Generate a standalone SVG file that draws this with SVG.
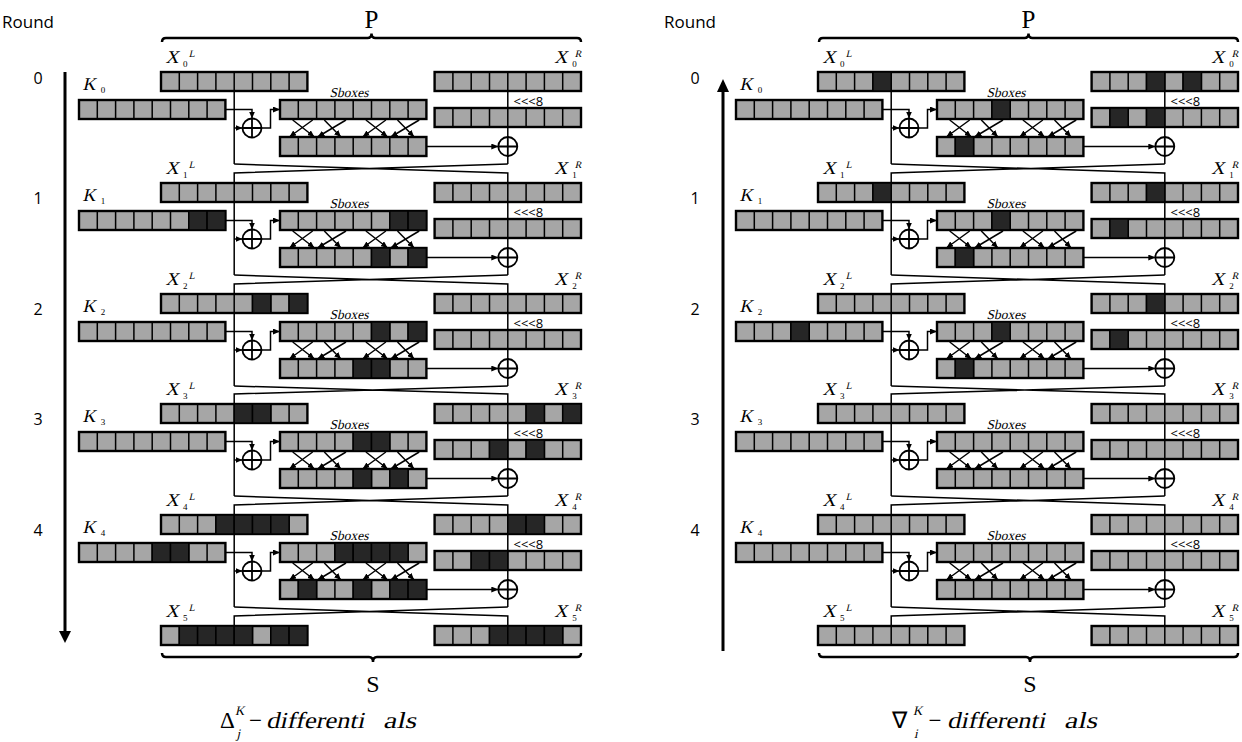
<svg xmlns="http://www.w3.org/2000/svg" width="1242" height="742" viewBox="0 0 1242 742">
<style>
.dk{fill:#262626;stroke:#000;stroke-width:1.5}
.ln{fill:none;stroke:#000;stroke-width:1.5}
.ar{marker-end:url(#ah)}
.bk{fill:none;stroke:#000;stroke-width:3}
.br{fill:none;stroke:#000;stroke-width:2.5}
.ti{font-family:"Liberation Serif","Times New Roman",serif;fill:#000}
.tr{font-family:"Liberation Serif","Times New Roman",serif;fill:#000}
.ss{font-family:"Open Sans","Liberation Sans",sans-serif;fill:#000}
.xl{font-size:18px}
.sp{font-size:10px}
.sb{font-size:9px}
.sbx{font-size:13.5px;text-anchor:middle}
.rot{font-size:13px}
.rn{font-size:16px;text-anchor:middle}
</style>
<defs>
<marker id="ah" markerUnits="userSpaceOnUse" markerWidth="7" markerHeight="6" viewBox="0 0 7 6" refX="7" refY="3" orient="auto"><path d="M0,0L7,3L0,6z"/></marker>
<g id="row"><rect width="146.4" height="19" fill="#a6a6a6"/><path d="M18.3,0v19M36.6,0v19M54.9,0v19M73.2,0v19M91.5,0v19M109.8,0v19M128.1,0v19" stroke="#000" stroke-width="1.5"/><rect width="146.4" height="19" fill="none" stroke="#000" stroke-width="2.4"/></g>
<g id="xor"><circle r="9.5" fill="#fff" stroke="#000" stroke-width="1.8"/><path d="M-9.5,0H9.5M0,-9.5V9.5" stroke="#000" stroke-width="1.8"/></g>
<g id="rc">
<path class="ln" d="M234.2,0V92M507.8,0V65M507.8,84V92"/>
<path class="ln ar" d="M225.4,37.5H252V46.5"/>
<path class="ln ar" d="M234.2,56H242.5"/>
<path class="ln ar" d="M261.5,56H270.5V37.5H280"/>
<path class="ln ar" d="M426.4,74.5H498.3"/>
<path class="ln ar" d="M292.7,48L314.5,65"/>
<path class="ln ar" d="M312.7,48L289.3,65"/>
<path class="ln ar" d="M324.3,48L341,65"/>
<path class="ln ar" d="M346,48L317.5,65"/>
<path class="ln ar" d="M365.9,48L387.7,65"/>
<path class="ln ar" d="M385.9,48L362.5,65"/>
<path class="ln ar" d="M397.5,48L414.2,65"/>
<path class="ln ar" d="M419.2,48L390.7,65"/>
</g>
<path id="cross" class="ln" d="M234.2,164L507.8,173V183M507.8,164L234.2,173V183M234.2,275L507.8,284V294M507.8,275L234.2,284V294M234.2,386L507.8,394V404M507.8,386L234.2,394V404M234.2,496L507.8,505V515M507.8,496L234.2,505V515M234.2,607L507.8,616V626M507.8,607L234.2,616V626"/>
</defs>
<rect width="1242" height="742" fill="#fff"/>

<!-- ================= LEFT PANEL ================= -->
<g id="left">
<text class="ss" x="2" y="28" font-size="17">Round</text>
<g id="L-round-numbers" class="ss rn"><text x="38" y="84">0</text><text x="38" y="204">1</text><text x="38" y="315">2</text><text x="38" y="425">3</text><text x="38" y="536">4</text></g>
<g id="L-time-arrow"><path class="bk" d="M65,72V633"/><path d="M59,631L71,631L65,643z"/></g>
<g id="L-P"><path class="br" d="M162,42Q162,38 166,38H367.5Q371.5,38 371.5,33.5Q371.5,38 375.5,38H577Q581,38 581,42"/><text class="tr" x="371.5" y="28" font-size="25" text-anchor="middle">P</text></g>
<g id="L-S"><path class="br" d="M162,653Q162,657 166,657H369Q373,657 373,662Q373,657 377,657H577Q581,657 581,653"/><text class="tr" x="373" y="692" font-size="24" text-anchor="middle">S</text></g>
<g id="L-formula"><text class="tr" x="220" y="728" font-size="23">Δ</text><text class="ti" transform="translate(235,715) skewX(-13)" font-size="13">K</text><text class="ti" transform="translate(236.5,738) skewX(-13)" font-size="13">j</text><text class="tr" x="249" y="728" font-size="23">−</text><text class="ti" transform="translate(266,728) skewX(-13)" font-size="23" textLength="98" lengthAdjust="spacingAndGlyphs">differenti</text><text class="ti" transform="translate(383,728) skewX(-13)" font-size="23" textLength="33" lengthAdjust="spacingAndGlyphs">als</text></g>

<g id="L-connectors">
<use href="#rc" y="72"/><use href="#rc" y="183"/><use href="#rc" y="294"/><use href="#rc" y="404"/><use href="#rc" y="515"/>
<use href="#cross"/>
</g>

<g id="L-xors"><use href="#xor" x="252" y="128"/><use href="#xor" x="507.8" y="146.5"/><use href="#xor" x="252" y="239"/><use href="#xor" x="507.8" y="257.5"/><use href="#xor" x="252" y="350"/><use href="#xor" x="507.8" y="368.5"/><use href="#xor" x="252" y="460"/><use href="#xor" x="507.8" y="478.5"/><use href="#xor" x="252" y="571"/><use href="#xor" x="507.8" y="589.5"/></g>

<g id="L-sbox-labels" class="ti sbx"><text transform="translate(349,97) skewX(-13)">Sboxes</text><text transform="translate(349,208) skewX(-13)">Sboxes</text><text transform="translate(349,319) skewX(-13)">Sboxes</text><text transform="translate(349,429) skewX(-13)">Sboxes</text><text transform="translate(349,540) skewX(-13)">Sboxes</text></g>
<g id="L-rot-labels" class="ss rot"><text x="513.5" y="106">&lt;&lt;&lt;8</text><text x="513.5" y="217">&lt;&lt;&lt;8</text><text x="513.5" y="328">&lt;&lt;&lt;8</text><text x="513.5" y="438">&lt;&lt;&lt;8</text><text x="513.5" y="549">&lt;&lt;&lt;8</text></g>

<!-- round 0 -->
<g id="L0-XL"><use href="#row" x="161" y="72"/><text class="ti xl" transform="translate(165.6,63) skewX(-13)">X</text><text class="ti sp" transform="translate(188.8,57) skewX(-13)">L</text><text class="tr sb" x="183" y="67">0</text></g>
<g id="L0-XR"><use href="#row" x="434.6" y="72"/><text class="ti xl" transform="translate(554.3,63) skewX(-13)">X</text><text class="ti sp" transform="translate(574.7,57) skewX(-13)">R</text><text class="tr sb" x="572.3" y="67">0</text></g>
<g id="L0-K"><use href="#row" x="79" y="100"/><text class="ti xl" transform="translate(82.5,90) skewX(-13)">K</text><text class="tr sb" x="100.8" y="93">0</text></g>
<g id="L0-Sin"><use href="#row" x="280" y="100"/></g>
<g id="L0-Rot"><use href="#row" x="434.6" y="108"/></g>
<g id="L0-Sout"><use href="#row" x="280" y="137"/></g>
<!-- round 1 -->
<g id="L1-XL"><use href="#row" x="161" y="183"/><text class="ti xl" transform="translate(165.6,174) skewX(-13)">X</text><text class="ti sp" transform="translate(188.8,168) skewX(-13)">L</text><text class="tr sb" x="183" y="178">1</text></g>
<g id="L1-XR"><use href="#row" x="434.6" y="183"/><text class="ti xl" transform="translate(554.3,174) skewX(-13)">X</text><text class="ti sp" transform="translate(574.7,168) skewX(-13)">R</text><text class="tr sb" x="572.3" y="178">1</text></g>
<g id="L1-K"><use href="#row" x="79" y="211"/><rect class="dk" x="188.8" y="211" width="18.3" height="19"/><rect class="dk" x="207.1" y="211" width="18.3" height="19"/><text class="ti xl" transform="translate(82.5,201) skewX(-13)">K</text><text class="tr sb" x="100.8" y="204">1</text></g>
<g id="L1-Sin"><use href="#row" x="280" y="211"/><rect class="dk" x="389.8" y="211" width="18.3" height="19"/><rect class="dk" x="408.1" y="211" width="18.3" height="19"/></g>
<g id="L1-Rot"><use href="#row" x="434.6" y="219"/></g>
<g id="L1-Sout"><use href="#row" x="280" y="248"/><rect class="dk" x="371.5" y="248" width="18.3" height="19"/><rect class="dk" x="408.1" y="248" width="18.3" height="19"/></g>
<!-- round 2 -->
<g id="L2-XL"><use href="#row" x="161" y="294"/><rect class="dk" x="252.5" y="294" width="18.3" height="19"/><rect class="dk" x="289.1" y="294" width="18.3" height="19"/><text class="ti xl" transform="translate(165.6,285) skewX(-13)">X</text><text class="ti sp" transform="translate(188.8,279) skewX(-13)">L</text><text class="tr sb" x="183" y="289">2</text></g>
<g id="L2-XR"><use href="#row" x="434.6" y="294"/><text class="ti xl" transform="translate(554.3,285) skewX(-13)">X</text><text class="ti sp" transform="translate(574.7,279) skewX(-13)">R</text><text class="tr sb" x="572.3" y="289">2</text></g>
<g id="L2-K"><use href="#row" x="79" y="322"/><text class="ti xl" transform="translate(82.5,312) skewX(-13)">K</text><text class="tr sb" x="100.8" y="315">2</text></g>
<g id="L2-Sin"><use href="#row" x="280" y="322"/><rect class="dk" x="371.5" y="322" width="18.3" height="19"/><rect class="dk" x="408.1" y="322" width="18.3" height="19"/></g>
<g id="L2-Rot"><use href="#row" x="434.6" y="330"/></g>
<g id="L2-Sout"><use href="#row" x="280" y="359"/><rect class="dk" x="353.2" y="359" width="18.3" height="19"/><rect class="dk" x="371.5" y="359" width="18.3" height="19"/></g>
<!-- round 3 -->
<g id="L3-XL"><use href="#row" x="161" y="404"/><rect class="dk" x="234.2" y="404" width="18.3" height="19"/><rect class="dk" x="252.5" y="404" width="18.3" height="19"/><text class="ti xl" transform="translate(165.6,395) skewX(-13)">X</text><text class="ti sp" transform="translate(188.8,389) skewX(-13)">L</text><text class="tr sb" x="183" y="399">3</text></g>
<g id="L3-XR"><use href="#row" x="434.6" y="404"/><rect class="dk" x="526.1" y="404" width="18.3" height="19"/><rect class="dk" x="562.7" y="404" width="18.3" height="19"/><text class="ti xl" transform="translate(554.3,395) skewX(-13)">X</text><text class="ti sp" transform="translate(574.7,389) skewX(-13)">R</text><text class="tr sb" x="572.3" y="399">3</text></g>
<g id="L3-K"><use href="#row" x="79" y="432"/><text class="ti xl" transform="translate(82.5,422) skewX(-13)">K</text><text class="tr sb" x="100.8" y="425">3</text></g>
<g id="L3-Sin"><use href="#row" x="280" y="432"/><rect class="dk" x="353.2" y="432" width="18.3" height="19"/><rect class="dk" x="371.5" y="432" width="18.3" height="19"/></g>
<g id="L3-Rot"><use href="#row" x="434.6" y="440"/><rect class="dk" x="489.5" y="440" width="18.3" height="19"/><rect class="dk" x="526.1" y="440" width="18.3" height="19"/></g>
<g id="L3-Sout"><use href="#row" x="280" y="469"/><rect class="dk" x="353.2" y="469" width="18.3" height="19"/><rect class="dk" x="389.8" y="469" width="18.3" height="19"/></g>
<!-- round 4 -->
<g id="L4-XL"><use href="#row" x="161" y="515"/><rect class="dk" x="215.9" y="515" width="18.3" height="19"/><rect class="dk" x="234.2" y="515" width="18.3" height="19"/><rect class="dk" x="252.5" y="515" width="18.3" height="19"/><rect class="dk" x="270.8" y="515" width="18.3" height="19"/><text class="ti xl" transform="translate(165.6,506) skewX(-13)">X</text><text class="ti sp" transform="translate(188.8,500) skewX(-13)">L</text><text class="tr sb" x="183" y="510">4</text></g>
<g id="L4-XR"><use href="#row" x="434.6" y="515"/><rect class="dk" x="507.8" y="515" width="18.3" height="19"/><rect class="dk" x="526.1" y="515" width="18.3" height="19"/><text class="ti xl" transform="translate(554.3,506) skewX(-13)">X</text><text class="ti sp" transform="translate(574.7,500) skewX(-13)">R</text><text class="tr sb" x="572.3" y="510">4</text></g>
<g id="L4-K"><use href="#row" x="79" y="543"/><rect class="dk" x="152.2" y="543" width="18.3" height="19"/><rect class="dk" x="170.5" y="543" width="18.3" height="19"/><text class="ti xl" transform="translate(82.5,533) skewX(-13)">K</text><text class="tr sb" x="100.8" y="536">4</text></g>
<g id="L4-Sin"><use href="#row" x="280" y="543"/><rect class="dk" x="334.9" y="543" width="18.3" height="19"/><rect class="dk" x="353.2" y="543" width="18.3" height="19"/><rect class="dk" x="371.5" y="543" width="18.3" height="19"/><rect class="dk" x="389.8" y="543" width="18.3" height="19"/></g>
<g id="L4-Rot"><use href="#row" x="434.6" y="551"/><rect class="dk" x="471.2" y="551" width="18.3" height="19"/><rect class="dk" x="489.5" y="551" width="18.3" height="19"/></g>
<g id="L4-Sout"><use href="#row" x="280" y="580"/><rect class="dk" x="298.3" y="580" width="18.3" height="19"/><rect class="dk" x="353.2" y="580" width="18.3" height="19"/><rect class="dk" x="389.8" y="580" width="18.3" height="19"/><rect class="dk" x="408.1" y="580" width="18.3" height="19"/></g>
<!-- round 5 -->
<g id="L5-XL"><use href="#row" x="161" y="626"/><rect class="dk" x="179.3" y="626" width="18.3" height="19"/><rect class="dk" x="197.6" y="626" width="18.3" height="19"/><rect class="dk" x="215.9" y="626" width="18.3" height="19"/><rect class="dk" x="234.2" y="626" width="18.3" height="19"/><rect class="dk" x="270.8" y="626" width="18.3" height="19"/><rect class="dk" x="289.1" y="626" width="18.3" height="19"/><text class="ti xl" transform="translate(165.6,617) skewX(-13)">X</text><text class="ti sp" transform="translate(188.8,611) skewX(-13)">L</text><text class="tr sb" x="183" y="621">5</text></g>
<g id="L5-XR"><use href="#row" x="434.6" y="626"/><rect class="dk" x="489.5" y="626" width="18.3" height="19"/><rect class="dk" x="507.8" y="626" width="18.3" height="19"/><rect class="dk" x="526.1" y="626" width="18.3" height="19"/><rect class="dk" x="544.4" y="626" width="18.3" height="19"/><text class="ti xl" transform="translate(554.3,617) skewX(-13)">X</text><text class="ti sp" transform="translate(574.7,611) skewX(-13)">R</text><text class="tr sb" x="572.3" y="621">5</text></g>
</g>

<!-- ================= RIGHT PANEL ================= -->
<g id="right" transform="translate(657,0)">
<text class="ss" x="7" y="28" font-size="17">Round</text>
<g id="R-round-numbers" class="ss rn"><text x="38" y="84">0</text><text x="38" y="204">1</text><text x="38" y="315">2</text><text x="38" y="425">3</text><text x="38" y="536">4</text></g>
<g id="R-time-arrow"><path class="bk" d="M66,651V90"/><path d="M60,92L72,92L66,79z"/></g>
<g id="R-P"><path class="br" d="M162,42Q162,38 166,38H367.5Q371.5,38 371.5,33.5Q371.5,38 375.5,38H577Q581,38 581,42"/><text class="tr" x="371.5" y="28" font-size="25" text-anchor="middle">P</text></g>
<g id="R-S"><path class="br" d="M162,653Q162,657 166,657H369Q373,657 373,662Q373,657 377,657H577Q581,657 581,653"/><text class="tr" x="373" y="692" font-size="24" text-anchor="middle">S</text></g>
<g id="R-formula"><text class="tr" x="235" y="728" font-size="23">∇</text><text class="ti" transform="translate(256,715) skewX(-13)" font-size="13">K</text><text class="ti" transform="translate(257,738) skewX(-13)" font-size="13">i</text><text class="tr" x="271.5" y="728" font-size="23">−</text><text class="ti" transform="translate(290,728) skewX(-13)" font-size="23" textLength="98" lengthAdjust="spacingAndGlyphs">differenti</text><text class="ti" transform="translate(407,728) skewX(-13)" font-size="23" textLength="33" lengthAdjust="spacingAndGlyphs">als</text></g>

<g id="R-connectors">
<use href="#rc" y="72"/><use href="#rc" y="183"/><use href="#rc" y="294"/><use href="#rc" y="404"/><use href="#rc" y="515"/>
<use href="#cross"/>
</g>

<g id="R-xors"><use href="#xor" x="252" y="128"/><use href="#xor" x="507.8" y="146.5"/><use href="#xor" x="252" y="239"/><use href="#xor" x="507.8" y="257.5"/><use href="#xor" x="252" y="350"/><use href="#xor" x="507.8" y="368.5"/><use href="#xor" x="252" y="460"/><use href="#xor" x="507.8" y="478.5"/><use href="#xor" x="252" y="571"/><use href="#xor" x="507.8" y="589.5"/></g>

<g id="R-sbox-labels" class="ti sbx"><text transform="translate(349,97) skewX(-13)">Sboxes</text><text transform="translate(349,208) skewX(-13)">Sboxes</text><text transform="translate(349,319) skewX(-13)">Sboxes</text><text transform="translate(349,429) skewX(-13)">Sboxes</text><text transform="translate(349,540) skewX(-13)">Sboxes</text></g>
<g id="R-rot-labels" class="ss rot"><text x="513.5" y="106">&lt;&lt;&lt;8</text><text x="513.5" y="217">&lt;&lt;&lt;8</text><text x="513.5" y="328">&lt;&lt;&lt;8</text><text x="513.5" y="438">&lt;&lt;&lt;8</text><text x="513.5" y="549">&lt;&lt;&lt;8</text></g>

<!-- round 0 -->
<g id="R0-XL"><use href="#row" x="161" y="72"/><rect class="dk" x="215.9" y="72" width="18.3" height="19"/><text class="ti xl" transform="translate(165.6,63) skewX(-13)">X</text><text class="ti sp" transform="translate(188.8,57) skewX(-13)">L</text><text class="tr sb" x="183" y="67">0</text></g>
<g id="R0-XR"><use href="#row" x="434.6" y="72"/><rect class="dk" x="489.5" y="72" width="18.3" height="19"/><rect class="dk" x="526.1" y="72" width="18.3" height="19"/><text class="ti xl" transform="translate(554.3,63) skewX(-13)">X</text><text class="ti sp" transform="translate(574.7,57) skewX(-13)">R</text><text class="tr sb" x="572.3" y="67">0</text></g>
<g id="R0-K"><use href="#row" x="79" y="100"/><text class="ti xl" transform="translate(82.5,90) skewX(-13)">K</text><text class="tr sb" x="100.8" y="93">0</text></g>
<g id="R0-Sin"><use href="#row" x="280" y="100"/><rect class="dk" x="334.9" y="100" width="18.3" height="19"/></g>
<g id="R0-Rot"><use href="#row" x="434.6" y="108"/><rect class="dk" x="452.9" y="108" width="18.3" height="19"/><rect class="dk" x="489.5" y="108" width="18.3" height="19"/></g>
<g id="R0-Sout"><use href="#row" x="280" y="137"/><rect class="dk" x="298.3" y="137" width="18.3" height="19"/></g>
<!-- round 1 -->
<g id="R1-XL"><use href="#row" x="161" y="183"/><rect class="dk" x="215.9" y="183" width="18.3" height="19"/><text class="ti xl" transform="translate(165.6,174) skewX(-13)">X</text><text class="ti sp" transform="translate(188.8,168) skewX(-13)">L</text><text class="tr sb" x="183" y="178">1</text></g>
<g id="R1-XR"><use href="#row" x="434.6" y="183"/><rect class="dk" x="489.5" y="183" width="18.3" height="19"/><text class="ti xl" transform="translate(554.3,174) skewX(-13)">X</text><text class="ti sp" transform="translate(574.7,168) skewX(-13)">R</text><text class="tr sb" x="572.3" y="178">1</text></g>
<g id="R1-K"><use href="#row" x="79" y="211"/><text class="ti xl" transform="translate(82.5,201) skewX(-13)">K</text><text class="tr sb" x="100.8" y="204">1</text></g>
<g id="R1-Sin"><use href="#row" x="280" y="211"/><rect class="dk" x="334.9" y="211" width="18.3" height="19"/></g>
<g id="R1-Rot"><use href="#row" x="434.6" y="219"/><rect class="dk" x="452.9" y="219" width="18.3" height="19"/></g>
<g id="R1-Sout"><use href="#row" x="280" y="248"/><rect class="dk" x="298.3" y="248" width="18.3" height="19"/></g>
<!-- round 2 -->
<g id="R2-XL"><use href="#row" x="161" y="294"/><text class="ti xl" transform="translate(165.6,285) skewX(-13)">X</text><text class="ti sp" transform="translate(188.8,279) skewX(-13)">L</text><text class="tr sb" x="183" y="289">2</text></g>
<g id="R2-XR"><use href="#row" x="434.6" y="294"/><rect class="dk" x="489.5" y="294" width="18.3" height="19"/><text class="ti xl" transform="translate(554.3,285) skewX(-13)">X</text><text class="ti sp" transform="translate(574.7,279) skewX(-13)">R</text><text class="tr sb" x="572.3" y="289">2</text></g>
<g id="R2-K"><use href="#row" x="79" y="322"/><rect class="dk" x="133.9" y="322" width="18.3" height="19"/><text class="ti xl" transform="translate(82.5,312) skewX(-13)">K</text><text class="tr sb" x="100.8" y="315">2</text></g>
<g id="R2-Sin"><use href="#row" x="280" y="322"/><rect class="dk" x="334.9" y="322" width="18.3" height="19"/></g>
<g id="R2-Rot"><use href="#row" x="434.6" y="330"/><rect class="dk" x="452.9" y="330" width="18.3" height="19"/></g>
<g id="R2-Sout"><use href="#row" x="280" y="359"/><rect class="dk" x="298.3" y="359" width="18.3" height="19"/></g>
<!-- round 3 -->
<g id="R3-XL"><use href="#row" x="161" y="404"/><text class="ti xl" transform="translate(165.6,395) skewX(-13)">X</text><text class="ti sp" transform="translate(188.8,389) skewX(-13)">L</text><text class="tr sb" x="183" y="399">3</text></g>
<g id="R3-XR"><use href="#row" x="434.6" y="404"/><text class="ti xl" transform="translate(554.3,395) skewX(-13)">X</text><text class="ti sp" transform="translate(574.7,389) skewX(-13)">R</text><text class="tr sb" x="572.3" y="399">3</text></g>
<g id="R3-K"><use href="#row" x="79" y="432"/><text class="ti xl" transform="translate(82.5,422) skewX(-13)">K</text><text class="tr sb" x="100.8" y="425">3</text></g>
<g id="R3-Sin"><use href="#row" x="280" y="432"/></g>
<g id="R3-Rot"><use href="#row" x="434.6" y="440"/></g>
<g id="R3-Sout"><use href="#row" x="280" y="469"/></g>
<!-- round 4 -->
<g id="R4-XL"><use href="#row" x="161" y="515"/><text class="ti xl" transform="translate(165.6,506) skewX(-13)">X</text><text class="ti sp" transform="translate(188.8,500) skewX(-13)">L</text><text class="tr sb" x="183" y="510">4</text></g>
<g id="R4-XR"><use href="#row" x="434.6" y="515"/><text class="ti xl" transform="translate(554.3,506) skewX(-13)">X</text><text class="ti sp" transform="translate(574.7,500) skewX(-13)">R</text><text class="tr sb" x="572.3" y="510">4</text></g>
<g id="R4-K"><use href="#row" x="79" y="543"/><text class="ti xl" transform="translate(82.5,533) skewX(-13)">K</text><text class="tr sb" x="100.8" y="536">4</text></g>
<g id="R4-Sin"><use href="#row" x="280" y="543"/></g>
<g id="R4-Rot"><use href="#row" x="434.6" y="551"/></g>
<g id="R4-Sout"><use href="#row" x="280" y="580"/></g>
<!-- round 5 -->
<g id="R5-XL"><use href="#row" x="161" y="626"/><text class="ti xl" transform="translate(165.6,617) skewX(-13)">X</text><text class="ti sp" transform="translate(188.8,611) skewX(-13)">L</text><text class="tr sb" x="183" y="621">5</text></g>
<g id="R5-XR"><use href="#row" x="434.6" y="626"/><text class="ti xl" transform="translate(554.3,617) skewX(-13)">X</text><text class="ti sp" transform="translate(574.7,611) skewX(-13)">R</text><text class="tr sb" x="572.3" y="621">5</text></g>
</g>
</svg>
